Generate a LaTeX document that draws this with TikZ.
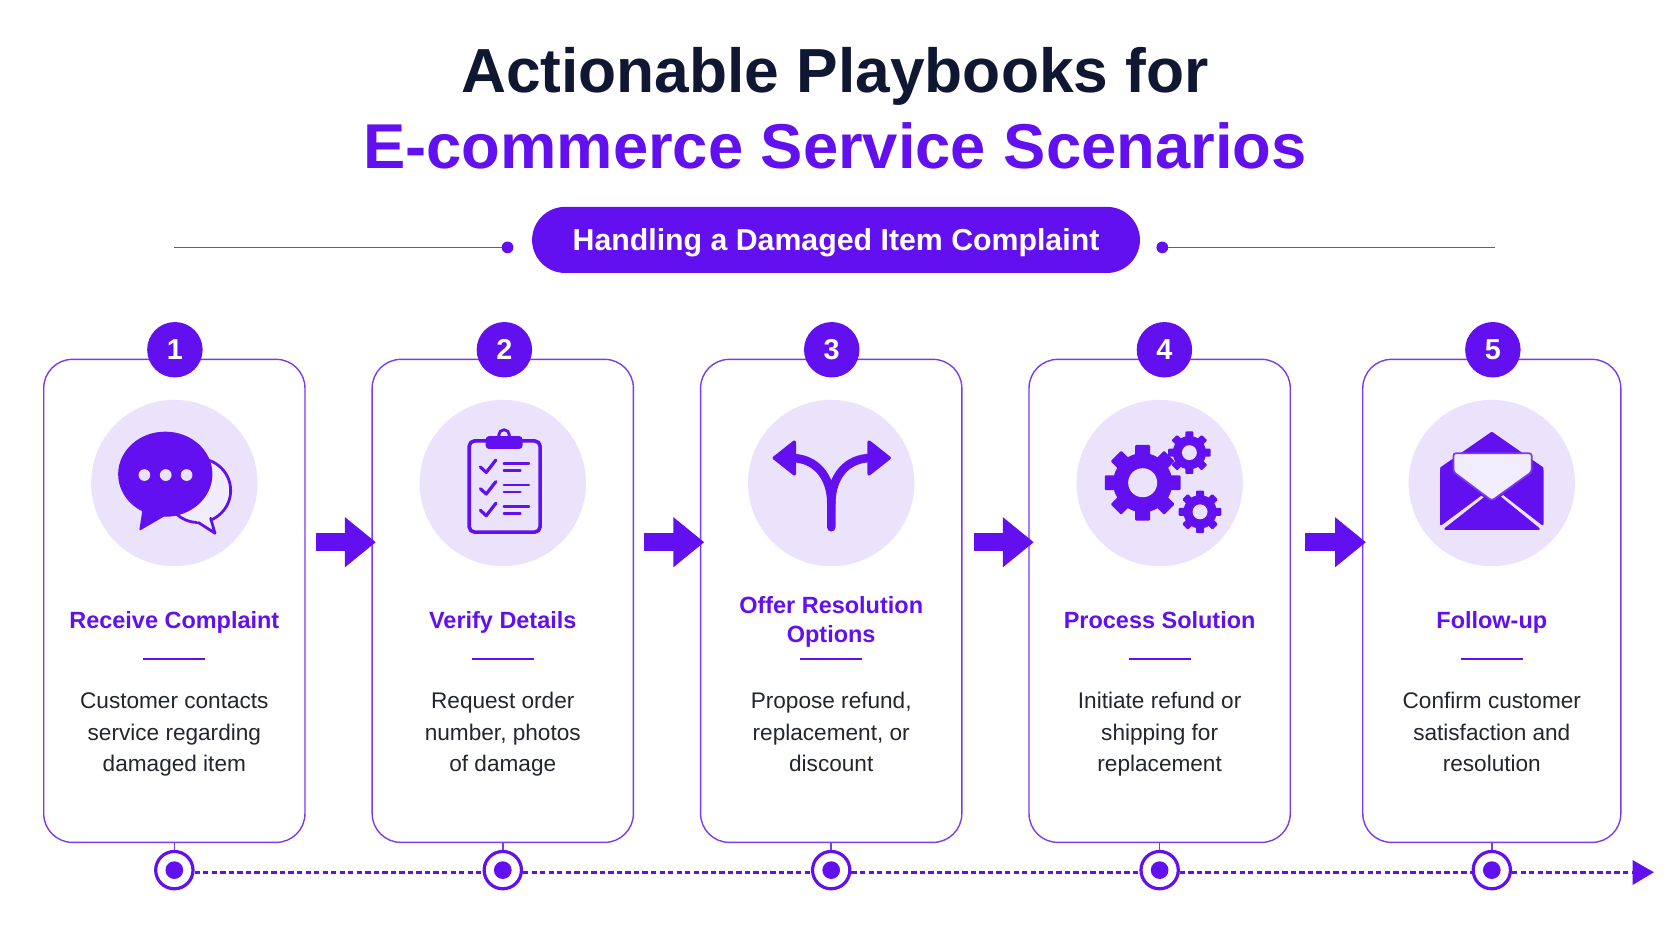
\documentclass[tikz,border=0pt]{standalone}
\usepackage{fontspec}
\setmainfont{Liberation Sans}
\usetikzlibrary{arrows.meta,calc}
\definecolor{brand}{HTML}{6210F0}
\definecolor{edge}{HTML}{7A3BEE}
\definecolor{halo}{HTML}{EBE3FC}
\definecolor{paper}{HTML}{F2EDFD}
\definecolor{ink}{HTML}{0F1733}
\definecolor{bodyink}{HTML}{23262F}
\newcommand\topstrut{\rule{0pt}{16pt}}
\newcommand\botstrut{\rule[-5pt]{0pt}{5pt}}
\tikzset{
  x=1pt,y=-1pt,
  cardbox/.style={draw=edge,line width=1.3pt,rounded corners=27pt,fill=white,minimum height=453pt,inner sep=0pt,outer sep=0pt},
  numdisc/.style={circle,fill=brand,text=white,minimum size=52pt,inner sep=0pt,font=\fontsize{27}{27}\selectfont\bfseries},
  halodisc/.style={circle,fill=halo,minimum size=156pt,inner sep=0pt},
  cardtitle/.style={text=brand,align=center,font=\fontsize{22}{28}\selectfont\bfseries,inner sep=0pt},
  cardbody/.style={text=bodyink,align=center,font=\fontsize{21.2}{29.35}\selectfont,inner sep=0pt},
  rulebar/.style={draw=brand,line width=2.4pt},
  tickring/.style={circle,draw=brand,line width=3pt,fill=white,minimum size=35pt,inner sep=0pt},
  tickdot/.style={circle,fill=brand,minimum size=16.6pt,inner sep=0pt},
  stub/.style={draw=edge,line width=1.5pt},
  dashlink/.style={draw=brand,line width=2.6pt,dash pattern=on 5pt off 3pt},
  blockarrow/.style={draw=brand,line width=17pt,-{Triangle[length=29pt,width=45pt]}},
  thinrule/.style={draw=edge,line width=1.4pt},
  icon/.style={draw=brand,line cap=round,line join=round},
}
\newcommand\stepcard[7]{%
  \node[cardbox,minimum width=#3pt] (card#1) at (#2,563.5) {};
  \node[numdisc] (num#1) at (#4,328) {#5};
  \node[halodisc] (halo#1) at (#2,453) {};
  \node[cardtitle] (title#1) at (#2,583.5) {\topstrut#6\botstrut};
  \coordinate (ruleL#1) at ($(#2,618)+(-29,0)$);
  \coordinate (ruleR#1) at ($(#2,618)+(29,0)$);
  \draw[rulebar] (ruleL#1) -- (ruleR#1);
  \node[cardbody] (body#1) at (#2,688.5) {\topstrut#7\botstrut};
  \node[tickring] (ring#1) at (#2,816) {};
  \node[tickdot] (dot#1) at (ring#1) {};
  \draw[stub] (card#1.south) -- (ring#1.north);
}
\newcommand\gearshape[6]{% x y r hole teeth toothw
  \begin{scope}[shift={(#1,#2)}]
    \fill[brand] (0,0) circle (#3*0.78);
    \foreach \a in {1,...,#5}{
      \fill[brand,rotate=\a*360/#5,rounded corners=1pt] (-#6/2,0) rectangle (#6/2,#3);
    }
    \fill[halo] (0,0) circle (#4);
  \end{scope}
}
\begin{document}
\begin{tikzpicture}
\useasboundingbox (0,0) rectangle (1568,882);
\fill[white] (0,0) rectangle (1568,882);

% heading
\node[anchor=base,text=ink,inner sep=0pt,font=\fontsize{58.4}{60}\selectfont\bfseries] (head1) at (783,87) {Actionable Playbooks for};
\node[anchor=base,text=brand,inner sep=0pt,font=\fontsize{59.4}{60}\selectfont\bfseries] (head2) at (783,158) {E-commerce Service Scenarios};

% banner
\node[fill=brand,rounded corners=31pt,minimum width=570pt,minimum height=62pt,inner sep=0pt] (pill) at (784,225) {};
\node[anchor=base,text=white,inner sep=0pt,font=\fontsize{28.4}{30}\selectfont\bfseries] (pilltext) at (784,235) {Handling a Damaged Item Complaint};
\coordinate (ruleLA) at (163,232);
\node[circle,fill=brand,minimum size=11pt,inner sep=0pt] (ruleLB) at (476,232) {};
\node[circle,fill=brand,minimum size=11pt,inner sep=0pt] (ruleRA) at (1090,232) {};
\coordinate (ruleRB) at (1402,232);
\draw[thinrule] (ruleLA) -- (ruleLB);
\draw[thinrule] (ruleRA) -- (ruleRB);

% cards
\stepcard{1}{163.5}{245}{164}{1}{Receive Complaint}{Customer contacts\\service regarding\\damaged item}
\stepcard{2}{471.5}{245}{473}{2}{Verify Details}{Request order\\number, photos\\of damage}
\stepcard{3}{779.5}{245}{780}{3}{Offer Resolution\\Options}{Propose refund,\\replacement, or\\discount}
\stepcard{4}{1087.5}{245}{1092}{4}{Process Solution}{Initiate refund or\\shipping for\\replacement}
\stepcard{5}{1399}{242}{1400}{5}{Follow-up}{Confirm customer\\satisfaction and\\resolution}

% block arrows
\coordinate (ba1) at (296,508.5); \coordinate (bb1) at (352.5,508.5);
\coordinate (ba2) at (604,508.5); \coordinate (bb2) at (660.5,508.5);
\coordinate (ba3) at (913,508.5); \coordinate (bb3) at (969.5,508.5);
\coordinate (ba4) at (1224,508.5); \coordinate (bb4) at (1281,508.5);
\foreach \i in {1,2,3,4}{\draw[blockarrow] (ba\i) -- (bb\i);}

% timeline
\coordinate (lineTip) at (1531,818);
\coordinate (lineEnd) at (1551,818);
\draw[dashlink] (ring1.east |- lineTip) -- (ring2.west |- lineTip);
\draw[dashlink] (ring2.east |- lineTip) -- (ring3.west |- lineTip);
\draw[dashlink] (ring3.east |- lineTip) -- (ring4.west |- lineTip);
\draw[dashlink] (ring4.east |- lineTip) -- (ring5.west |- lineTip);
\draw[dashlink] (ring5.east |- lineTip) -- (lineTip);
\fill[brand] (1531,806.5) -- (lineEnd) -- (1531,830) -- cycle;

% chat icon
\begin{scope}
  \draw[icon,line width=2.6pt,fill=paper] (186,460) ellipse (30.3 and 30);
  \fill[paper] (184,488) -- (196,484) -- (200,490) -- (190,496) -- cycle;
  \draw[icon,line width=2.6pt,fill=paper] (186,490) -- (201.6,500) -- (197.5,486);
  \fill[brand] (155,444.7) ellipse (44.2 and 39.9);
  \fill[icon,fill=brand,line width=1.5pt] (134.4,478) -- (131.5,496.5) -- (153,484) -- cycle;
  \foreach \x in {135.4,155.4,175}{\fill[halo] (\x,445.5) circle (5.5);}
\end{scope}

% clipboard icon
\begin{scope}
  \draw[icon,line width=3.4pt] (440,413.5) [rounded corners=5pt] -- (506.5,413.5) -- (506.5,499) -- (440,499) -- cycle;
  \draw[brand,line width=2.6pt] (472.7,408) circle (5);
  \fill[brand,rounded corners=3pt] (455.5,409) rectangle (490,421);
  \foreach \y in {0,20.3,40.6}{
    \draw[icon,line width=3pt] (450.5,438+\y) -- (456,443+\y) -- (465,431.4+\y);
    \draw[icon,line width=2.4pt] (472.5,434.6+\y) -- (496,434.6+\y);
    \draw[icon,line width=2.4pt] (472.5,441.2+\y) -- (488,441.2+\y);
  }
\end{scope}

% fork icon
\begin{scope}
  \draw[icon,line width=8pt,line cap=round] (779.6,494.5) -- (779.6,472) .. controls (779.6,447) and (765,429.5) .. (742,429.5);
  \draw[icon,line width=8pt,line cap=round] (779.6,472) .. controls (779.6,447) and (794,429.5) .. (817,429.5);
  \fill[icon,fill=brand,line width=3pt] (726,429.5) -- (745,414.5) -- (745,444.5) -- cycle;
  \fill[icon,fill=brand,line width=3pt] (834,429.5) -- (815,414.5) -- (815,444.5) -- cycle;
\end{scope}

% gears icon
\gearshape{1071.6}{452.7}{35.5}{13.6}{8}{14}
\gearshape{1115.4}{424.5}{20}{7}{8}{7.5}
\gearshape{1125.4}{480}{20}{7}{8}{7.5}

% envelope icon
\begin{scope}
  \fill[icon,fill=brand,line width=2pt] (1399,406) -- (1446.5,439) -- (1399,470) -- (1351.5,439) -- cycle;
  \fill[icon,fill=brand,line width=2pt] (1355.5,496) -- (1400,461) -- (1443,496) -- cycle;
  \draw[edge,line width=1.6pt,fill=paper,rounded corners=2.5pt] (1363,425) -- (1436.4,425) -- (1436.4,442.5) -- (1399,469.5) -- (1363,442.5) -- cycle;
  \fill[icon,fill=brand,line width=2pt] (1351.5,440.5) -- (1388.5,464) -- (1351.5,491.5) -- cycle;
  \fill[icon,fill=brand,line width=2pt] (1446.5,440.5) -- (1411,464) -- (1446.5,491.5) -- cycle;
\end{scope}
\end{tikzpicture}
\end{document}
